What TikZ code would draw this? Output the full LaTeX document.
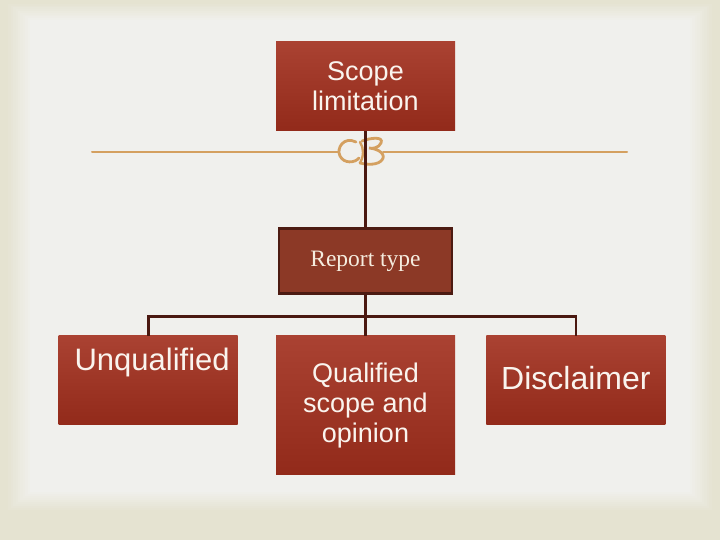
\documentclass[tikz,border=0pt]{standalone}
\usepackage{fontspec}
\setmainfont{Liberation Sans}
\newfontfamily\typeserif{Liberation Serif}
\usetikzlibrary{positioning}
\definecolor{framebeige}{RGB}{229,227,209}
\definecolor{pagewhite}{RGB}{240,240,237}
\definecolor{boxtop}{RGB}{170,66,50}
\definecolor{boxbot}{RGB}{146,42,26}
\definecolor{typefill}{RGB}{140,57,38}
\definecolor{typeline}{RGB}{76,27,18}
\definecolor{linkbrown}{RGB}{74,24,16}
\definecolor{ornatan}{RGB}{212,160,96}
\definecolor{textwhite}{RGB}{250,244,238}

\tikzset{
  redbox/.style={rectangle, top color=boxtop, bottom color=boxbot, text=textwhite,
    align=center, minimum width=179pt, minimum height=89pt, inner sep=0pt,
    font=\fontsize{27}{30}\selectfont},
  boxlabel/.style={inner sep=0pt, text=textwhite},
  typebox/.style={rectangle, draw=typeline, line width=2.5pt, fill=typefill,
    text={rgb,255:red,245;green,236;blue,222}, minimum width=173pt, minimum height=65pt,
    inner sep=0pt, font=\typeserif\fontsize{23.5}{26}\selectfont},
  link/.style={draw=linkbrown, line width=2.8pt},
  orna/.style={draw=ornatan, line width=2pt, line cap=round},
}

\begin{document}
\begin{tikzpicture}[x=1pt,y=-1pt]
  \useasboundingbox (0,0) rectangle (720,540);
  % page background
  \fill[framebeige] (0,0) rectangle (720,540);
  \foreach \i in {1,...,10} {
    \pgfmathsetmacro\mixp{\i*10}
    \fill[pagewhite!\mixp!framebeige] (6+2.4*\i,2+1.8*\i) rectangle (714-2.4*\i,512-2.0*\i);
  }

  % boxes
  \node[redbox] (scope) at (365.5,86.5) {Scope\\limitation};
  \node[typebox, below=96pt of scope] (report) {Report type};
  \node[redbox, minimum height=139pt, below=41pt of report] (qual) {Qualified\\scope and\\opinion};
  \node[redbox, anchor=north east,
        label={[boxlabel, anchor=north, xshift=4pt, yshift=-12pt,
                font=\fontsize{31}{32}\selectfont]north:Unqualified}]
        (unq) at ([xshift=-38pt]qual.north west) {};
  \node[redbox, anchor=north west,
        label={[boxlabel, anchor=base, yshift=2pt,
                font=\fontsize{32}{34}\selectfont]center:Disclaimer}]
        (discl) at ([xshift=31pt]qual.north east) {};

  % ornament rule
  \draw[orna] (92,152) -- (339,152);
  \draw[orna] (383,152) -- (627,152);
  \draw[orna, line width=2.8pt] (356,142) .. controls (344,136) and (336,148) .. (340,156)
        .. controls (344,164) and (355,163) .. (359,158);
  \draw[orna, line width=2.4pt] (360,142) .. controls (364,148) and (364,156) .. (360,163);
  \draw[orna, line width=2.8pt] (362,141) .. controls (370,138) and (384,136) .. (381,143)
        .. controls (379,148) and (372,149) .. (369,148)
        .. controls (380,149) and (386,155) .. (382,160)
        .. controls (378,165) and (368,165) .. (360,163);

  % connectors
  \draw[link] (scope.south) -- (scope.south |- report.north);
  \draw[link] (report.south) -- ++(0,22) -| (unq.north);
  \draw[link] (report.south) -- ++(0,22) -| (discl.north);
  \draw[link] (report.south |- qual.north) ++(0,-20) -- (qual.north);
\end{tikzpicture}
\end{document}
